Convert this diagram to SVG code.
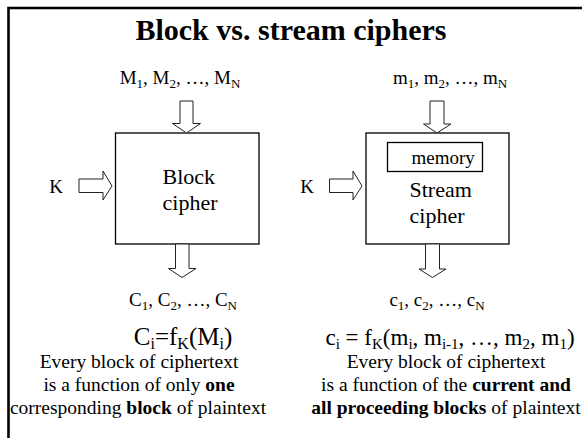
<svg xmlns="http://www.w3.org/2000/svg" width="582" height="438" viewBox="0 0 582 438" font-family="'Liberation Serif', 'Times New Roman', serif">
  <style>
    text, tspan { font-family: "Liberation Serif", "Times New Roman", serif; fill: #000; }
    .title { font-size: 30px; font-weight: bold; text-anchor: middle; }
    .lbl { font-size: 19px; text-anchor: middle; }
    .inner { font-size: 22px; }
    .mem { font-size: 19px; }
    .eq { font-size: 23px; text-anchor: middle; }
    .eqb { font-size: 25px; text-anchor: middle; }
    .desc { font-size: 19.5px; text-anchor: middle; }
    .sub { font-size: 13px; }
    .esub { font-size: 15px; }
    .esubb { font-size: 16px; }
    .box { fill: #fff; stroke: #000; stroke-width: 1.3; }
    .arrow { fill: #fff; stroke: #222; stroke-width: 1; stroke-linejoin: miter; }
    .b { font-weight: bold; }
  </style>

  <!-- slide frame -->
  <path d="M8.5 440 V8 H584" fill="none" stroke="#000" stroke-width="2.6"/>

  <text class="title" x="291" y="40">Block vs. stream ciphers</text>

  <!-- block cipher -->
  <g id="block-cipher">
    <rect class="box" x="115.5" y="133" width="143.5" height="111"/>
    <text class="inner" x="162.5" y="183.5">Block</text>
    <text class="inner" x="162.5" y="210">cipher</text>
  </g>

  <!-- stream cipher with its internal memory -->
  <g id="stream-cipher">
    <rect class="box" x="366" y="133" width="143" height="111"/>
    <rect class="box" x="387.5" y="142.5" width="95" height="29"/>
    <text class="mem" x="411.5" y="164">memory</text>
    <text class="inner" x="409.5" y="196.5">Stream</text>
    <text class="inner" x="409.5" y="223">cipher</text>
  </g>

  <g id="block-labels">
    <text class="lbl" x="180" y="84">M<tspan class="sub" dy="4">1</tspan><tspan dy="-4">, M</tspan><tspan class="sub" dy="4">2</tspan><tspan dy="-4">, …, M</tspan><tspan class="sub" dy="4">N</tspan></text>
    <text class="lbl" x="56" y="192.5">K</text>
    <text class="lbl" x="183" y="306">C<tspan class="sub" dy="4">1</tspan><tspan dy="-4">, C</tspan><tspan class="sub" dy="4">2</tspan><tspan dy="-4">, …, C</tspan><tspan class="sub" dy="4">N</tspan></text>
    <text class="eqb" x="183" y="345">C<tspan class="esubb" dy="4">i</tspan><tspan dy="-4">=f</tspan><tspan class="esubb" dy="4">K</tspan><tspan dy="-4">(M</tspan><tspan class="esubb" dy="4">i</tspan><tspan dy="-4">)</tspan></text>
    <text class="desc" x="139" y="368">Every block of ciphertext</text>
    <text class="desc" x="139" y="391">is a function of only <tspan class="b">one</tspan></text>
    <text class="desc" x="138" y="414">corresponding <tspan class="b">block</tspan> of plaintext</text>
  </g>

  <g id="stream-labels">
    <text class="lbl" x="450" y="84">m<tspan class="sub" dy="4">1</tspan><tspan dy="-4">, m</tspan><tspan class="sub" dy="4">2</tspan><tspan dy="-4">, …, m</tspan><tspan class="sub" dy="4">N</tspan></text>
    <text class="lbl" x="307" y="192.5">K</text>
    <text class="lbl" x="437" y="306">c<tspan class="sub" dy="4">1</tspan><tspan dy="-4">, c</tspan><tspan class="sub" dy="4">2</tspan><tspan dy="-4">, …, c</tspan><tspan class="sub" dy="4">N</tspan></text>
    <text class="eq" x="450" y="345">c<tspan class="esub" dy="4">i</tspan><tspan dy="-4"> = f</tspan><tspan class="esub" dy="4">K</tspan><tspan dy="-4">(m</tspan><tspan class="esub" dy="4">i</tspan><tspan dy="-4">, m</tspan><tspan class="esub" dy="4">i-1</tspan><tspan dy="-4">, …, m</tspan><tspan class="esub" dy="4">2</tspan><tspan dy="-4">, m</tspan><tspan class="esub" dy="4">1</tspan><tspan dy="-4">)</tspan></text>
    <text class="desc" x="446" y="368">Every block of ciphertext</text>
    <text class="desc" x="446" y="391">is a function of the <tspan class="b">current and</tspan></text>
    <text class="desc" x="446" y="414"><tspan class="b">all proceeding blocks</tspan> of plaintext</text>
  </g>

  <!-- hollow block arrows -->
  <g id="connectors">
    <!-- plaintext into block cipher -->
    <polygon class="arrow" points="180,101 193,101 193,123.5 200.5,123.5 186.5,133 172.5,123.5 180,123.5"/>
    <!-- key into block cipher -->
    <polygon class="arrow" points="79,179 103,179 103,171 112,186 103,200 103,192.5 79,192.5"/>
    <!-- ciphertext out of block cipher -->
    <polygon class="arrow" points="175.5,244 189,244 189,268.5 196,268.5 182,277.5 168.5,268.5 175.5,268.5"/>
    <!-- plaintext into stream cipher -->
    <polygon class="arrow" points="430,101 444,101 444,124 451,124 437,133 423.5,124 430,124"/>
    <!-- key into stream cipher -->
    <polygon class="arrow" points="329.5,179 353,179 353,171 362,186 353,200 353,192.5 329.5,192.5"/>
    <!-- ciphertext out of stream cipher -->
    <polygon class="arrow" points="425.5,244 439.5,244 439.5,269 446,269 432.5,277.5 419,269 425.5,269"/>
  </g>
</svg>
